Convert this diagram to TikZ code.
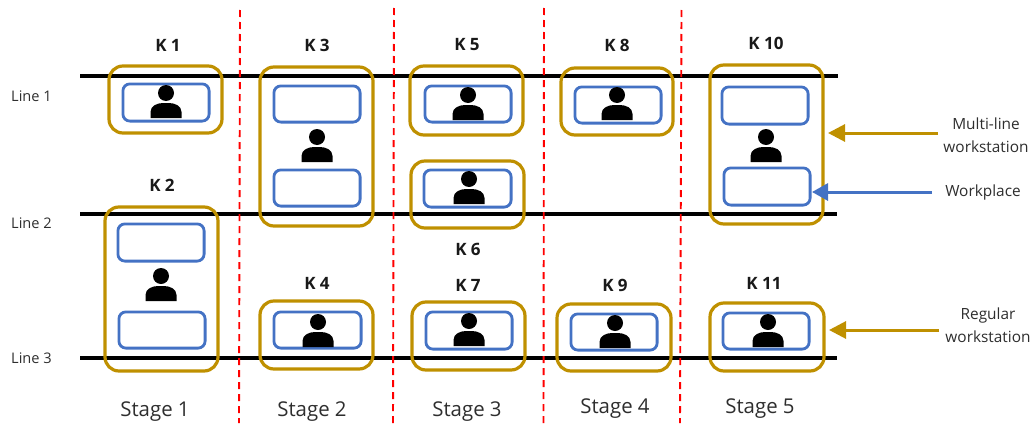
\documentclass[tikz,border=0pt]{standalone}
\usepackage{fontspec}
\setmainfont{Open Sans}
\usetikzlibrary{arrows.meta}
\definecolor{gold}{HTML}{BF9000}
\definecolor{wblue}{HTML}{4472C4}
\definecolor{txt}{HTML}{2E2E2E}
\tikzset{
  x=1pt,y=-1pt,
  station/.style={draw=gold,line width=3.2pt,rounded corners=14pt,fill=none,inner sep=0pt},
  place/.style={draw=wblue,line width=2.8pt,rounded corners=7pt,inner sep=0pt},
  conveyor/.style={draw=black,line width=4.4pt},
  stageline/.style={draw=red,line width=1.9pt,dash pattern=on 7pt off 5pt},
  klabel/.style={font=\fontsize{17}{20}\selectfont\bfseries,text=black!90,inner sep=0pt},
  linelabel/.style={font=\fontsize{14.6}{17}\selectfont,text=txt,inner sep=0pt},
  stagelabel/.style={font=\fontsize{20.4}{24}\selectfont,text=txt,inner sep=0pt},
  notelabel/.style={font=\fontsize{15.4}{23}\selectfont,text=txt,inner sep=0pt,align=center},
  goldarrow/.style={draw=gold,line width=3pt,-{Triangle[length=17pt,width=17pt]}},
  bluearrow/.style={draw=wblue,line width=3pt,-{Triangle[length=16pt,width=17pt]}},
}
% #1 name, #2 x1, #3 y1, #4 x2, #5 y2 (outer edges), #6 style, #7 inset
\newcommand{\pxbox}[7]{%
  \pgfmathsetmacro{\bw}{#4-#2-#7}\pgfmathsetmacro{\bh}{#5-#3-#7}%
  \pgfmathsetmacro{\bx}{(#2+#4)/2}\pgfmathsetmacro{\by}{(#3+#5)/2}%
  \node[#6,minimum width=\bw pt,minimum height=\bh pt] (#1) at (\bx,\by) {};%
}
\newcommand{\gbox}[5]{\pxbox{#1}{#2}{#3}{#4}{#5}{station}{2}}
\newcommand{\wbox}[5]{\pxbox{#1}{#2}{#3}{#4}{#5}{place}{1.8}}
% #1 x center, #2 y of head centre
\newcommand{\worker}[2]{%
  \fill[black] (#1,#2) circle (8pt);
  \fill[black] ({#1-15.5},{#2+25}) -- ({#1-15.5},{#2+19})
    .. controls ({#1-15.5},{#2+13}) and ({#1-9},{#2+10}) .. (#1-3,{#2+10})
    -- (#1+3,{#2+10})
    .. controls ({#1+9},{#2+10}) and ({#1+15.5},{#2+13}) .. ({#1+15.5},{#2+19})
    -- ({#1+15.5},{#2+25}) -- cycle;
}
\begin{document}
\begin{tikzpicture}
\useasboundingbox (0,0) rectangle (1035,423);
% conveyor lines
\coordinate (a1) at (80,75.7);  \coordinate (b1) at (838,75.7);
\coordinate (a2) at (80,213.7); \coordinate (b2) at (837,213.7);
\coordinate (a3) at (80,357.7); \coordinate (b3) at (837,357.7);
\draw[conveyor] (a1) -- (b1);
\draw[conveyor] (a2) -- (b2);
\draw[conveyor] (a3) -- (b3);
% stage separators
\coordinate (s1a) at (240,10);  \coordinate (s1b) at (239,423);
\coordinate (s2a) at (394,8);   \coordinate (s2b) at (393,423);
\coordinate (s3a) at (544,8);   \coordinate (s3b) at (543.5,423);
\coordinate (s4a) at (681.5,10);  \coordinate (s4b) at (680,423);
\draw[stageline] (s1a) -- (s1b);
\draw[stageline] (s2a) -- (s2b);
\draw[stageline] (s3a) -- (s3b);
\draw[stageline] (s4a) -- (s4b);
% workstations
\gbox{k1}{108}{65}{223}{134}
\gbox{k2}{104}{206}{219}{372}
\gbox{k3}{259}{66}{374}{227}
\gbox{k4}{259}{300}{374}{370}
\gbox{k5}{409}{65}{524}{136}
\gbox{k6}{410}{160}{525}{229}
\gbox{k7}{411}{301}{526}{371}
\gbox{k8}{560}{67}{674}{136}
\gbox{k9}{556}{303}{672}{372}
\gbox{k10}{709}{64}{824}{225}
\gbox{k11}{709}{302}{825}{372}
% workplaces
\wbox{p1}{122}{83}{210}{122}
\wbox{p2a}{117}{223}{205}{262}
\wbox{p2b}{118}{311}{206}{349}
\wbox{p3a}{273}{85}{361}{123}
\wbox{p3b}{273}{169}{361}{207}
\wbox{p4}{273}{311}{362}{349}
\wbox{p5}{424}{85}{512}{123}
\wbox{p6}{423}{169}{512}{208}
\wbox{p7}{425}{311}{513}{350}
\wbox{p8}{574}{86}{662}{124}
\wbox{p9}{570}{313}{658}{351}
\wbox{p10a}{721}{86}{809}{125}
\wbox{p10b}{723}{167}{811}{206}
\wbox{p11}{722}{312}{810}{350}
% workers
\worker{166}{93}
\worker{161}{276}
\worker{317}{137}
\worker{318}{322}
\worker{468}{95}
\worker{469}{179}
\worker{469}{321}
\worker{617}{95}
\worker{615}{323}
\worker{766}{137}
\worker{768}{322}
% station labels
\node[klabel] (lk1) at (168,45) {K 1};
\node[klabel] (lk2) at (162,185) {K 2};
\node[klabel] (lk3) at (317,45) {K 3};
\node[klabel] (lk4) at (317,283) {K 4};
\node[klabel] (lk5) at (467,45) {K 5};
\node[klabel] (lk6) at (468,249) {K 6};
\node[klabel] (lk7) at (468,285) {K 7};
\node[klabel] (lk8) at (617,45) {K 8};
\node[klabel] (lk9) at (615,285) {K 9};
\node[klabel] (lk10) at (766,43) {K 10};
\node[klabel] (lk11) at (764,283) {K 11};
% line labels
\node[linelabel] (l1) at (31.5,96) {Line 1};
\node[linelabel] (l2) at (31.5,223) {Line 2};
\node[linelabel] (l3) at (31.5,358) {Line 3};
% stage labels
\node[stagelabel] (st1) at (155,412) {Stage 1};
\node[stagelabel] (st2) at (312,412) {Stage 2};
\node[stagelabel] (st3) at (467,412) {Stage 3};
\node[stagelabel] (st4) at (615,409) {Stage 4};
\node[stagelabel] (st5) at (760,409) {Stage 5};
% notes
\node[notelabel] (nm) at (986,135) {Multi-line\\workstation};
\node[notelabel] (nw) at (983,192) {Workplace};
\node[notelabel] (nr) at (988,325) {Regular\\workstation};
\coordinate (tm) at (828,133); \coordinate (tw) at (812,192); \coordinate (tr) at (829,330);
\coordinate (fm) at (938,133); \coordinate (fw) at (932,192); \coordinate (fr) at (939,330);
\draw[goldarrow] (fm) -- (tm);
\draw[bluearrow] (fw) -- (tw);
\draw[goldarrow] (fr) -- (tr);
\end{tikzpicture}
\end{document}
